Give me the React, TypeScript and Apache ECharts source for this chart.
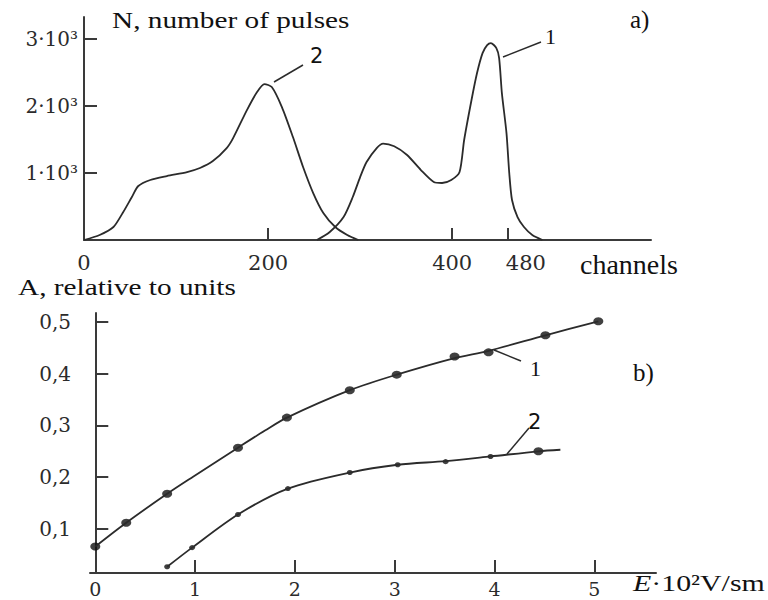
import React, { useEffect, useRef } from "react";
import * as echarts from "echarts";

// ---- Panel a) : pulse-height spectrum ----
const channelTickValues = [200, 400, 460];
const channelLabelValues = [0, 200, 400, 480];
const countTickValues = [1000, 2000, 3000];
const countTickLabels = ["1·10³", "2·10³", "3·10³"];

const curve2Channels = [0, 17, 32, 42, 52, 59, 72, 90, 112, 126, 140, 155, 162, 177, 188, 196, 204, 215, 227, 238, 249, 260, 273, 286, 298];
const curve2Counts = [0, 75, 194, 403, 642, 806, 896, 955, 1015, 1075, 1179, 1373, 1522, 1940, 2209, 2328, 2284, 1985, 1537, 1090, 701, 403, 194, 75, 0];

const curve1Channels = [253, 267, 282, 292, 300, 307, 318, 325, 337, 351, 366, 380, 389, 399, 408, 413, 421, 427, 433, 438, 442, 448, 451, 454, 459, 462, 465, 471, 478, 487, 498];
const curve1Counts = [0, 120, 343, 642, 940, 1164, 1373, 1440, 1400, 1269, 1045, 866, 851, 896, 1015, 1493, 2090, 2493, 2791, 2910, 2940, 2866, 2716, 2194, 1597, 1000, 597, 343, 194, 75, 0];

// ---- Panel b) : A versus E ----
const fieldTickValues = [1, 2, 3, 4, 5];
const fieldLabelValues = [0, 1, 2, 3, 4, 5];
const ampTickValues = [0.1, 0.2, 0.3, 0.4, 0.5];
const ampTickLabels = ["0,1", "0,2", "0,3", "0,4", "0,5"];

const line1E = [0, 0.31, 0.72, 0.98, 1.43, 1.7, 1.92, 2.55, 3.02, 3.6, 3.94, 4.51, 5.04];
const line1A = [0.066, 0.112, 0.168, 0.201, 0.257, 0.29, 0.315, 0.368, 0.398, 0.43, 0.444, 0.474, 0.501];
const dots1E = [0, 0.31, 0.72, 1.43, 1.92, 2.55, 3.02, 3.6, 3.94, 4.51, 5.04];
const dots1A = [0.066, 0.112, 0.168, 0.257, 0.315, 0.368, 0.398, 0.433, 0.441, 0.474, 0.501];

const line2E = [0.72, 0.97, 1.43, 1.93, 2.55, 3.03, 3.51, 3.96, 4.44, 4.66];
const line2A = [0.027, 0.064, 0.128, 0.178, 0.209, 0.224, 0.231, 0.24, 0.25, 0.253];
const dots2E = [0.72, 0.97, 1.43, 1.93, 2.55, 3.03, 3.51, 3.96, 4.44];
const dots2A = [0.027, 0.064, 0.128, 0.178, 0.209, 0.224, 0.23, 0.24, 0.25];

const zip = (xs: number[], ys: number[]) => xs.map((x, i) => [x, ys[i]]);

const INK = "#2b2b2b";
const AXIS = "#3a3a3a";
const SERIF = "Liberation Serif";
const TICKFONT = "DejaVu Serif";

const txt = (x: number, y: number, text: string, size: number, family: string, scaleX = 1, extra: any = {}) => ({
  type: "text",
  x,
  y,
  scaleX,
  style: {
    text,
    font: `${size}px '${family}'`,
    fontFamily: family,
    fontSize: size,
    fill: "#111",
    verticalAlign: "middle",
    ...extra,
  },
});

export default function App() {
  const ref = useRef<HTMLDivElement>(null);

  useEffect(() => {
    document.body.style.margin = "0";
    if (!ref.current) return;
    const chart = echarts.init(ref.current, null, { renderer: "svg" });

    const axisLine = { show: true, lineStyle: { color: AXIS, width: 2 } };
    const tickStyle = { color: AXIS, width: 2 };
    const curveStyle = { color: INK, width: 1.8 };

    const option: any = {
      animation: false,
      backgroundColor: "#ffffff",
      grid: [
        { left: 84, top: 17, width: 567, height: 223 },
        { left: 90, top: 313, width: 566, height: 260 },
      ],
      xAxis: [
        {
          gridIndex: 0,
          type: "value",
          min: 0,
          max: 616,
          axisLine,
          splitLine: { show: false },
          axisTick: { show: true, inside: true, length: 12, lineStyle: tickStyle, customValues: channelTickValues },
          axisLabel: {
            show: true,
            customValues: channelLabelValues,
            margin: 12,
            color: INK,
            fontFamily: TICKFONT,
            fontSize: 21,
            formatter: (v: number) => String(v),
          },
        },
        {
          gridIndex: 1,
          type: "value",
          min: -0.053,
          max: 5.618,
          axisLine,
          splitLine: { show: false },
          axisTick: { show: true, inside: true, length: 13, lineStyle: tickStyle, customValues: fieldTickValues },
          axisLabel: {
            show: true,
            customValues: fieldLabelValues,
            margin: 6,
            color: INK,
            fontFamily: TICKFONT,
            fontSize: 19,
            formatter: (v: number) => String(v),
          },
        },
      ],
      yAxis: [
        {
          gridIndex: 0,
          type: "value",
          min: 0,
          max: 3330,
          axisLine,
          splitLine: { show: false },
          axisTick: { show: true, inside: true, length: 13, lineStyle: tickStyle, customValues: countTickValues },
          axisLabel: {
            show: true,
            customValues: countTickValues,
            margin: 6,
            color: INK,
            fontFamily: TICKFONT,
            fontSize: 20,
            formatter: (v: number) => {
              const i = countTickValues.indexOf(v);
              return i >= 0 ? countTickLabels[i] : "";
            },
          },
        },
        {
          gridIndex: 1,
          type: "value",
          min: 0.015,
          max: 0.517,
          axisLine,
          splitLine: { show: false },
          axisTick: { show: true, inside: true, length: 13, lineStyle: tickStyle, customValues: ampTickValues },
          axisLabel: {
            show: true,
            customValues: ampTickValues,
            margin: 19,
            color: INK,
            fontFamily: TICKFONT,
            fontSize: 20,
            formatter: (v: number) => {
              const i = ampTickValues.findIndex((t) => Math.abs(t - v) < 1e-6);
              return i >= 0 ? ampTickLabels[i] : "";
            },
          },
        },
      ],
      series: [
        {
          type: "line",
          xAxisIndex: 0,
          yAxisIndex: 0,
          data: zip(curve2Channels, curve2Counts),
          smooth: 0.25,
          showSymbol: false,
          lineStyle: curveStyle,
        },
        {
          type: "line",
          xAxisIndex: 0,
          yAxisIndex: 0,
          data: zip(curve1Channels, curve1Counts),
          smooth: 0.25,
          showSymbol: false,
          lineStyle: curveStyle,
        },
        {
          type: "line",
          xAxisIndex: 1,
          yAxisIndex: 1,
          data: zip(line1E, line1A),
          smooth: 0.3,
          showSymbol: false,
          lineStyle: curveStyle,
        },
        {
          type: "line",
          xAxisIndex: 1,
          yAxisIndex: 1,
          data: zip(line2E, line2A),
          smooth: 0.3,
          showSymbol: false,
          lineStyle: curveStyle,
        },
        {
          type: "scatter",
          xAxisIndex: 1,
          yAxisIndex: 1,
          data: zip(dots1E, dots1A),
          symbol: "circle",
          symbolSize: [10, 8],
          itemStyle: { color: "#111" },
        },
        {
          type: "scatter",
          xAxisIndex: 1,
          yAxisIndex: 1,
          data: zip(dots2E, dots2A),
          symbol: "circle",
          symbolSize: (_v: any, p: any) => (p.dataIndex === dots2E.length - 1 ? [10, 8] : [6, 5]),
          itemStyle: { color: "#111" },
        },
      ],
      graphic: [
        txt(112, 20, "N, number of pulses", 24, SERIF, 1.22),
        txt(630, 19, "a)", 25, SERIF),
        txt(580, 264, "channels", 28, SERIF),
        txt(18, 287, "A, relative to units", 24, SERIF, 1.22),
        txt(633, 372, "b)", 25, SERIF),
        txt(633, 583, "{e|E}·10²V/sm", 23, SERIF, 1.3, {
          rich: { e: { fontStyle: "italic", fontFamily: SERIF, fontSize: 23, fill: "#111" } },
        }),
        // curve labels with leader lines, panel a
        { type: "line", shape: { x1: 274, y1: 82, x2: 303, y2: 65 }, style: { stroke: INK, lineWidth: 1.5 } },
        txt(310, 56, "2", 21, "DejaVu Sans"),
        { type: "line", shape: { x1: 503, y1: 57, x2: 541, y2: 42 }, style: { stroke: INK, lineWidth: 1.5 } },
        txt(545, 36, "1", 22, SERIF),
        // curve labels with leader lines, panel b
        { type: "line", shape: { x1: 494, y1: 350, x2: 521, y2: 361 }, style: { stroke: INK, lineWidth: 1.5 } },
        txt(530, 368, "1", 22, SERIF),
        { type: "line", shape: { x1: 507, y1: 454, x2: 529, y2: 428 }, style: { stroke: INK, lineWidth: 1.5 } },
        txt(528, 422, "2", 21, "DejaVu Sans"),
      ],
    };

    chart.setOption(option);
    return () => {
      chart.dispose();
    };
  }, []);

  return <div ref={ref} style={{ width: 768, height: 600 }} />;
}
